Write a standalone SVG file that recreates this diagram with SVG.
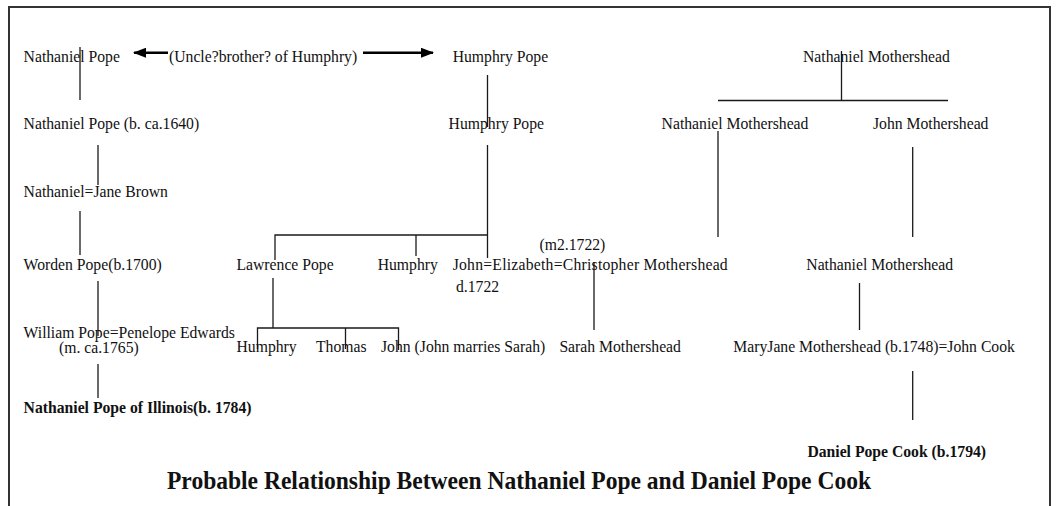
<svg xmlns="http://www.w3.org/2000/svg" width="1058" height="506" viewBox="0 0 1058 506">
<style>
text{font-family:'Liberation Serif','Times New Roman',Times,Tinos,'DejaVu Serif',serif;font-size:15.7px;fill:#111}
.b{font-weight:bold}
.t{font-size:25px;font-weight:bold}
.ln{stroke:#1a1a1a;stroke-width:1.3;fill:none}
.ar{stroke:#000;stroke-width:2.6;fill:none}
.frame{stroke:#333;stroke-width:2;fill:none}
</style>
<defs>
<marker id="ah" viewBox="0 0 13 10" refX="12" refY="5" markerWidth="13" markerHeight="10" markerUnits="userSpaceOnUse" orient="auto-start-reverse">
<path d="M0,0 L13,5 L0,10 Z" fill="#000"/>
</marker>
</defs>
<rect width="1058" height="506" fill="#fff"/>
<path class="frame" d="M9,506 V7 H1050 V506"/>

<g id="connectors">
<line class="ar" x1="168" y1="52.7" x2="134" y2="52.7" marker-end="url(#ah)"/>
<line class="ar" x1="363" y1="52.7" x2="433" y2="52.7" marker-end="url(#ah)"/>
<line class="ln" x1="80" y1="47" x2="80" y2="100"/>
<line class="ln" x1="98" y1="145" x2="98" y2="185"/>
<line class="ln" x1="80" y1="211" x2="80" y2="255"/>
<line class="ln" x1="98" y1="281" x2="98" y2="336"/>
<line class="ln" x1="98" y1="364" x2="98" y2="398"/>
<line class="ln" x1="487.5" y1="75" x2="487.5" y2="127"/>
<line class="ln" x1="487.5" y1="145" x2="487.5" y2="258"/>
<polyline class="ln" points="275,260 275,235 487.5,235"/>
<line class="ln" x1="416" y1="235" x2="416" y2="256"/>
<line class="ln" x1="273" y1="278" x2="273" y2="328"/>
<polyline class="ln" points="257.5,349 257.5,328 398.5,328 398.5,350"/>
<line class="ln" x1="345.5" y1="328" x2="345.5" y2="349"/>
<line class="ln" x1="841.5" y1="51" x2="841.5" y2="100.5"/>
<line class="ln" x1="718" y1="100.5" x2="948" y2="100.5"/>
<line class="ln" x1="718" y1="131" x2="718" y2="237"/>
<line class="ln" x1="912.7" y1="147" x2="912.7" y2="237"/>
<line class="ln" x1="594" y1="262" x2="594" y2="330"/>
<line class="ln" x1="859.5" y1="283" x2="859.5" y2="330"/>
<line class="ln" x1="912.7" y1="371" x2="912.7" y2="420"/>
</g>

<g id="rel-label"><text x="169" y="62">(Uncle?brother? of Humphry)</text></g>
<g id="nathaniel-pope"><text x="23.6" y="62">Nathaniel Pope</text></g>
<g id="humphry-pope-1"><text x="452.7" y="62">Humphry Pope</text></g>
<g id="nathaniel-mothershead-1"><text x="803" y="62">Nathaniel Mothershead</text></g>
<g id="nathaniel-pope-1640"><text x="23.6" y="129">Nathaniel Pope (b. ca.1640)</text></g>
<g id="humphry-pope-2"><text x="448.6" y="129">Humphry Pope</text></g>
<g id="nathaniel-mothershead-2"><text x="661.6" y="129">Nathaniel Mothershead</text></g>
<g id="john-mothershead"><text x="873" y="129">John Mothershead</text></g>
<g id="nathaniel-jane"><text x="23.6" y="197">Nathaniel=Jane Brown</text></g>
<g id="worden-pope"><text x="23.6" y="270">Worden Pope(b.1700)</text></g>
<g id="lawrence-pope"><text x="236.5" y="270">Lawrence Pope</text></g>
<g id="humphry-3"><text x="377.7" y="270">Humphry</text></g>
<g id="john-elizabeth"><text x="539.5" y="250">(m2.1722)</text><text x="452.7" y="270" textLength="275" lengthAdjust="spacing">John=Elizabeth=Christopher Mothershead</text><text x="456" y="292">d.1722</text></g>
<g id="nathaniel-mothershead-3"><text x="806.3" y="270">Nathaniel Mothershead</text></g>
<g id="william-pope"><text x="23.6" y="338">William Pope=Penelope Edwards</text><text x="59" y="353">(m. ca.1765)</text></g>
<g id="humphry-4"><text x="236.5" y="352">Humphry</text></g>
<g id="thomas"><text x="316" y="352">Thomas</text></g>
<g id="john-sarah"><text x="381" y="352">John (John marries Sarah)</text></g>
<g id="sarah-mothershead"><text x="559.4" y="352">Sarah Mothershead</text></g>
<g id="maryjane"><text x="733.3" y="352">MaryJane Mothershead (b.1748)=John Cook</text></g>
<g id="nathaniel-illinois"><text class="b" x="23.6" y="413">Nathaniel Pope of Illinois(b. 1784)</text></g>
<g id="daniel-pope-cook"><text class="b" x="807.4" y="457">Daniel Pope Cook (b.1794)</text></g>
<g id="title"><text class="t" x="167" y="489" textLength="704" lengthAdjust="spacingAndGlyphs">Probable Relationship Between Nathaniel Pope and Daniel Pope Cook</text></g>
</svg>
